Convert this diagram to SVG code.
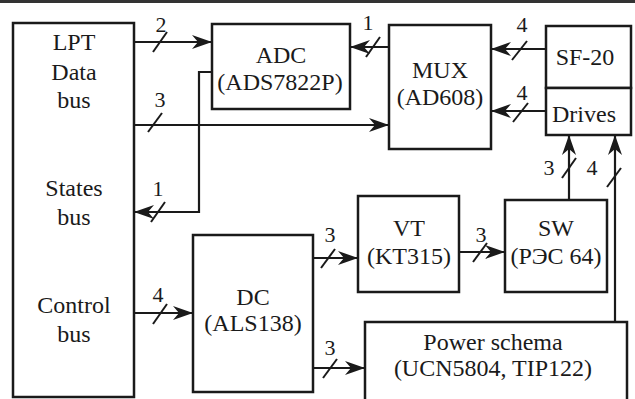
<svg xmlns="http://www.w3.org/2000/svg" width="635" height="399" viewBox="0 0 635 399">
<style>
.box{fill:#fff;stroke:#1a1a1a;stroke-width:2.5}
.ln{fill:none;stroke:#1a1a1a;stroke-width:2.2}
.sl{stroke:#1a1a1a;stroke-width:2}
.t{font-family:'Liberation Serif',serif;font-size:24px;fill:#1a1a1a;text-anchor:middle}
.n{font-family:'Liberation Serif',serif;font-size:22px;fill:#1a1a1a;text-anchor:middle}
</style>
<defs>
<marker id="ah" markerUnits="userSpaceOnUse" markerWidth="22" markerHeight="16" refX="20" refY="7" orient="auto">
<path d="M0,0 L20,7 L0,14 L6,7 Z" fill="#1a1a1a"/>
</marker>
</defs>
<rect width="635" height="399" fill="#fff"/>
<line x1="0" y1="1.5" x2="635" y2="1.5" stroke="#333" stroke-width="3"/>

<g id="lpt">
<rect class="box" x="13" y="23" width="121" height="374"/>
<text class="t" style="font-family:'Liberation Serif',serif" x="74" y="50">LPT</text>
<text class="t" style="font-family:'Liberation Serif',serif" x="74" y="80">Data</text>
<text class="t" style="font-family:'Liberation Serif',serif" x="74" y="108">bus</text>
<text class="t" style="font-family:'Liberation Serif',serif" x="74" y="196">States</text>
<text class="t" style="font-family:'Liberation Serif',serif" x="74" y="225">bus</text>
<text class="t" style="font-family:'Liberation Serif',serif" x="74" y="313">Control</text>
<text class="t" style="font-family:'Liberation Serif',serif" x="74" y="342">bus</text>
</g>

<g id="adc">
<rect class="box" x="212" y="24" width="138" height="85"/>
<text class="t" style="font-family:'Liberation Serif',serif" x="281" y="63">ADC</text>
<text class="t" style="font-family:'Liberation Serif',serif" x="280" y="90">(ADS7822P)</text>
</g>

<g id="mux">
<rect class="box" x="389" y="25" width="102" height="124"/>
<text class="t" style="font-family:'Liberation Serif',serif" x="440" y="78">MUX</text>
<text class="t" style="font-family:'Liberation Serif',serif" x="440" y="105">(AD608)</text>
</g>

<g id="sf20">
<rect class="box" x="546" y="26" width="85" height="62"/>
<text class="t" style="font-family:'Liberation Serif',serif" x="585" y="65">SF-20</text>
</g>

<g id="drives">
<rect class="box" x="546" y="88" width="85" height="47"/>
<text class="t" style="font-family:'Liberation Serif',serif" x="584" y="122">Drives</text>
</g>

<g id="vt">
<rect class="box" x="358" y="196" width="101" height="96"/>
<text class="t" style="font-family:'Liberation Serif',serif" x="409" y="236">VT</text>
<text class="t" style="font-family:'Liberation Serif',serif" x="409" y="264">(KT315)</text>
</g>

<g id="sw">
<rect class="box" x="505" y="200" width="102" height="92"/>
<text class="t" style="font-family:'Liberation Serif',serif" x="556" y="236">SW</text>
<text class="t" style="font-family:'Liberation Serif',serif" x="556" y="264">(РЭС 64)</text>
</g>

<g id="dc">
<rect class="box" x="193" y="235" width="120" height="157"/>
<text class="t" style="font-family:'Liberation Serif',serif" x="253" y="305">DC</text>
<text class="t" style="font-family:'Liberation Serif',serif" x="253" y="331">(ALS138)</text>
</g>

<g id="power">
<rect class="box" x="365" y="322" width="262" height="85"/>
<text class="t" style="font-family:'Liberation Serif',serif" x="493" y="350">Power schema</text>
<text class="t" style="font-family:'Liberation Serif',serif" x="493" y="376">(UCN5804, TIP122)</text>
</g>

<g id="connectors">
<line class="ln" x1="134" y1="42" x2="212" y2="42" marker-end="url(#ah)"/>
<line class="sl" x1="153" y1="52" x2="167" y2="32"/>
<text class="n" style="font-family:'Liberation Serif',serif" x="161" y="32">2</text>
<line class="ln" x1="134" y1="125" x2="389" y2="125" marker-end="url(#ah)"/>
<line class="sl" x1="148" y1="132" x2="162" y2="113"/>
<text class="n" style="font-family:'Liberation Serif',serif" x="160" y="107">3</text>
<polyline class="ln" points="212,72 199,72 199,212 134,212" marker-end="url(#ah)"/>
<line class="sl" x1="151" y1="222" x2="165" y2="202"/>
<text class="n" style="font-family:'Liberation Serif',serif" x="158" y="196">1</text>
<line class="ln" x1="389" y1="47" x2="350" y2="47" marker-end="url(#ah)"/>
<line class="sl" x1="366" y1="57" x2="380" y2="37"/>
<text class="n" style="font-family:'Liberation Serif',serif" x="368" y="30">1</text>
<line class="ln" x1="546" y1="49" x2="491" y2="49" marker-end="url(#ah)"/>
<line class="sl" x1="512" y1="60" x2="527" y2="41"/>
<text class="n" style="font-family:'Liberation Serif',serif" x="522" y="32">4</text>
<line class="ln" x1="546" y1="111" x2="491" y2="111" marker-end="url(#ah)"/>
<line class="sl" x1="513" y1="122" x2="528" y2="103"/>
<text class="n" style="font-family:'Liberation Serif',serif" x="522" y="100">4</text>
<line class="ln" x1="569" y1="200" x2="569" y2="135" marker-end="url(#ah)"/>
<line class="sl" x1="562" y1="178" x2="576" y2="158"/>
<text class="n" style="font-family:'Liberation Serif',serif" x="549" y="175">3</text>
<line class="ln" x1="615" y1="322" x2="615" y2="135" marker-end="url(#ah)"/>
<line class="sl" x1="607" y1="187" x2="621" y2="168"/>
<text class="n" style="font-family:'Liberation Serif',serif" x="592" y="175">4</text>
<line class="ln" x1="134" y1="313" x2="193" y2="313" marker-end="url(#ah)"/>
<line class="sl" x1="153" y1="324" x2="167" y2="304"/>
<text class="n" style="font-family:'Liberation Serif',serif" x="158" y="302">4</text>
<line class="ln" x1="313" y1="258" x2="358" y2="258" marker-end="url(#ah)"/>
<line class="sl" x1="321" y1="268" x2="335" y2="249"/>
<text class="n" style="font-family:'Liberation Serif',serif" x="330" y="242">3</text>
<line class="ln" x1="459" y1="252" x2="505" y2="252" marker-end="url(#ah)"/>
<line class="sl" x1="473" y1="262" x2="487" y2="243"/>
<text class="n" style="font-family:'Liberation Serif',serif" x="481" y="242">3</text>
<line class="ln" x1="313" y1="368" x2="365" y2="368" marker-end="url(#ah)"/>
<line class="sl" x1="323" y1="378" x2="337" y2="359"/>
<text class="n" style="font-family:'Liberation Serif',serif" x="330" y="355">3</text>
</g>
</svg>
